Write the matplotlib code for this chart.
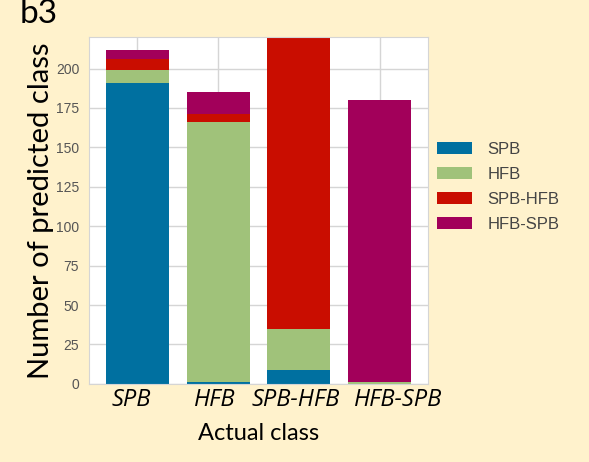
import matplotlib.pyplot as plt
import matplotlib.transforms as mtransforms
import numpy as np

classes = ['SPB', 'HFB', 'SPB-HFB', 'HFB-SPB']
# predicted counts for each actual class (rows: predicted class, cols: actual class)
pred_spb = [191, 1, 9, 0]
pred_hfb = [8, 165, 26, 1]
pred_spb_hfb = [7, 5, 186, 0]
pred_hfb_spb = [6, 14, 0, 179]

colors = ['#0070A0', '#A0C27A', '#C90D00', '#A2005A']
label_shift = [-6, -3, -3, 18]  # pixel nudges for the class names

plt.rcParams['font.family'] = ['Lato', 'DejaVu Sans']

fig = plt.figure(figsize=(5.89, 4.62), dpi=100, facecolor='#FFF2CC')
ax = fig.add_axes([0.151, 0.169, 0.576, 0.751])
ax.set_facecolor('white')

x = np.arange(len(classes))
bottom = np.zeros(len(classes))
for vals, col, name in zip([pred_spb, pred_hfb, pred_spb_hfb, pred_hfb_spb], colors, classes):
    ax.bar(x, vals, width=0.78, bottom=bottom, color=col, label=name, zorder=2)
    bottom += np.array(vals)

ax.set_xlim(-0.6, 3.6)
ax.set_ylim(0, 220)
ax.set_yticks(np.arange(0, 201, 25))
ax.set_xticks(x)
ax.set_xticklabels(classes, fontsize=17, style='italic', family='Open Sans')
ax.tick_params(axis='y', labelsize=10, colors='#555555', length=0, pad=7)
ax.tick_params(axis='x', length=0, pad=3)
for lbl in ax.get_yticklabels():
    lbl.set_family('Liberation Sans')
for lbl, dx in zip(ax.get_xticklabels(), label_shift):
    lbl.set_transform(lbl.get_transform() + mtransforms.ScaledTranslation(dx / 100, 0, fig.dpi_scale_trans))
ax.grid(True, color='#D5D5D5', linewidth=1, zorder=0)
ax.set_axisbelow(True)
for s in ax.spines.values():
    s.set_color('#D5D5D5')

ax.set_ylabel('Number of predicted class', fontsize=21, labelpad=1)
ax.set_xlabel('Actual class', fontsize=17, labelpad=8)

leg = fig.legend(*ax.get_legend_handles_labels(), loc='center left',
                 bbox_to_anchor=(0.742 - 8 / 589, 0.595), frameon=False, borderpad=0,
                 handlelength=2.1, handleheight=0.7,
                 handletextpad=0.9, labelspacing=0.6,
                 prop={'family': 'Liberation Sans', 'size': 12})
for t in leg.get_texts():
    t.set_color('#444444')

fig.text(0.033, 0.95, 'b3', fontsize=24)

fig.savefig('out.png', dpi=100, facecolor=fig.get_facecolor())
